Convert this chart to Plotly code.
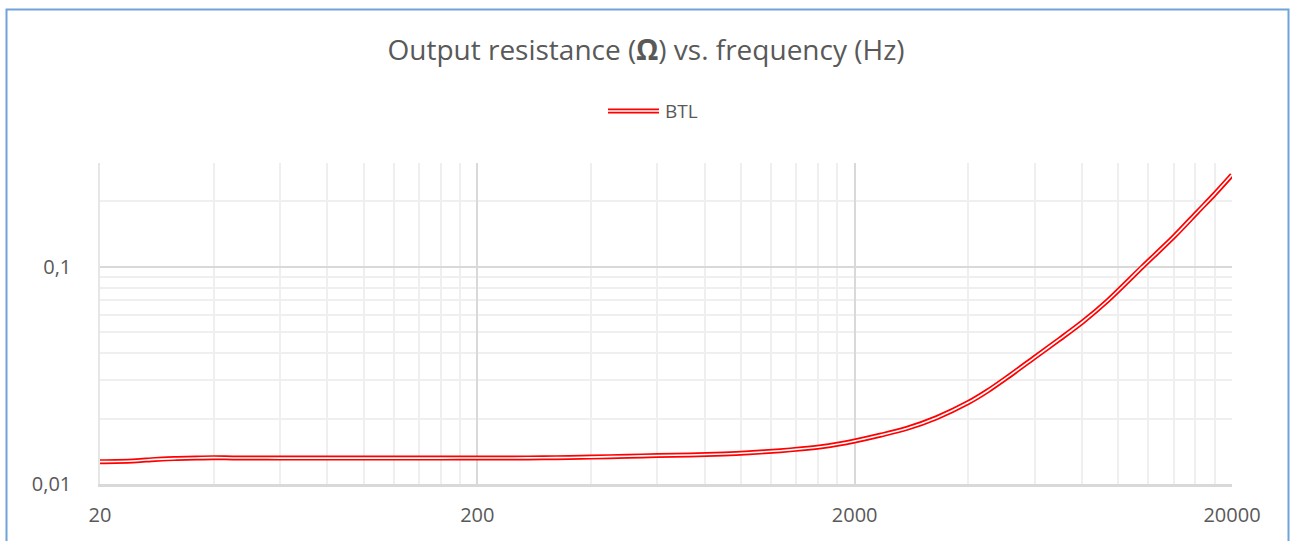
import plotly.graph_objects as go
import math

# ---- data ----
freq_hz = [20, 22, 25, 28, 32, 36, 40, 45, 50, 60, 80, 100, 130, 160, 200,
           250, 300, 350, 400, 500, 600, 730, 900, 1050, 1270, 1450, 1630, 1800,
           2000, 2350, 2760, 3300, 4000, 4500, 5080, 6040, 7000, 8050, 9360,
           11590, 14040, 16250, 18000, 20000]
r_btl = [0.01267, 0.01270, 0.01280, 0.01298, 0.01310, 0.01318, 0.01322, 0.01318, 0.01318,
         0.01316, 0.01316, 0.01316, 0.01316, 0.01316, 0.01318,
         0.01318, 0.01320, 0.01325, 0.01330, 0.01342, 0.01352, 0.01360, 0.01375, 0.01392,
         0.01423, 0.01452, 0.01485, 0.01525,
         0.01578, 0.01680, 0.01806, 0.02020, 0.02370, 0.02680, 0.03100, 0.03860, 0.04650,
         0.05580, 0.06970, 0.10000, 0.13760, 0.17950, 0.21600, 0.26450]

x_major = [20, 200, 2000, 20000]
x_major_text = ["20", "200", "2000", "20000"]
x_minor = [20 * 10 ** d * k for d in range(3) for k in range(2, 10)]
y_major = [0.01, 0.1]
y_major_text = ["0,01", "0,1"]
y_minor = [0.02, 0.03, 0.04, 0.05, 0.06, 0.07, 0.08, 0.09, 0.2, 0.3]

title_text = "Output resistance (<b>Ω</b>) vs. frequency (Hz)"
series_name = "BTL"

# ---- style ----
FONT = "Open Sans"
TXT = "#595959"
RED = "#ff0000"
W, H = 1292, 541
L, R, T, B = 100, 60, 163, 57
pw, ph = W - L - R, H - T - B

def px_x(px):
    return (px - L) / pw

def px_y(py):
    return (H - B - py) / ph

fig = go.Figure()
fig.add_trace(go.Scatter(x=freq_hz, y=r_btl, mode="lines", name=series_name,
                         line=dict(color=RED, width=5, shape="spline", smoothing=0.8),
                         showlegend=False, hoverinfo="skip"))
fig.add_trace(go.Scatter(x=freq_hz, y=r_btl, mode="lines", name=series_name,
                         line=dict(color="white", width=1.6, shape="spline", smoothing=0.8),
                         showlegend=False))

# legend sample (double line) + text
lx0, lx1, ly = px_x(608), px_x(659), px_y(111)
fig.add_shape(type="line", xref="paper", yref="paper", x0=lx0, x1=lx1, y0=ly, y1=ly,
              line=dict(color=RED, width=5))
fig.add_shape(type="line", xref="paper", yref="paper", x0=lx0, x1=lx1, y0=ly, y1=ly,
              line=dict(color="white", width=1.6))
fig.add_annotation(xref="paper", yref="paper", x=px_x(663), y=ly, text=series_name,
                   showarrow=False, xanchor="left", yanchor="middle",
                   font=dict(family=FONT, size=19, color=TXT))

# chart border
fig.add_shape(type="rect", xref="paper", yref="paper",
              x0=px_x(6.5), x1=px_x(1288.5), y0=px_y(560), y1=px_y(9.5),
              line=dict(color="#6fa3d9", width=2), fillcolor="rgba(0,0,0,0)", layer="above")

fig.update_layout(
    width=W, height=H,
    margin=dict(l=L, r=R, t=T, b=B),
    paper_bgcolor="white", plot_bgcolor="white",
    title=dict(text=title_text, x=0.5, xanchor="center", y=1 - 50 / H, yanchor="middle",
               font=dict(family=FONT, size=28, color=TXT)),
    font=dict(family=FONT, color=TXT),
    showlegend=False,
)
fig.update_xaxes(type="log", range=[math.log10(20), math.log10(20000)],
                 tickmode="array", tickvals=x_major, ticktext=x_major_text,
                 tickfont=dict(family=FONT, size=20, color=TXT), ticks="",
                 ticklabelstandoff=11,
                 showgrid=True, gridcolor="#d9d9d9", gridwidth=1.5,
                 minor=dict(tickmode="array", tickvals=x_minor, showgrid=True,
                            gridcolor="#efefef", gridwidth=1.5, ticks=""),
                 showline=True, linecolor="#d9d9d9", linewidth=2.5, mirror=False,
                 zeroline=False)
fig.update_yaxes(type="log", range=[-2, math.log10(0.3)],
                 tickmode="array", tickvals=y_major, ticktext=y_major_text,
                 tickfont=dict(family=FONT, size=20, color=TXT), ticks="",
                 ticklabelstandoff=23,
                 showgrid=True, gridcolor="#d9d9d9", gridwidth=1.5,
                 minor=dict(tickmode="array", tickvals=y_minor, showgrid=True,
                            gridcolor="#efefef", gridwidth=1.5, ticks=""),
                 showline=True, linecolor="#e6e6e6", linewidth=1.5,
                 zeroline=False)

fig.write_html("out.html", config={"displayModeBar": False},
               post_script="document.body.style.margin='0px';")
